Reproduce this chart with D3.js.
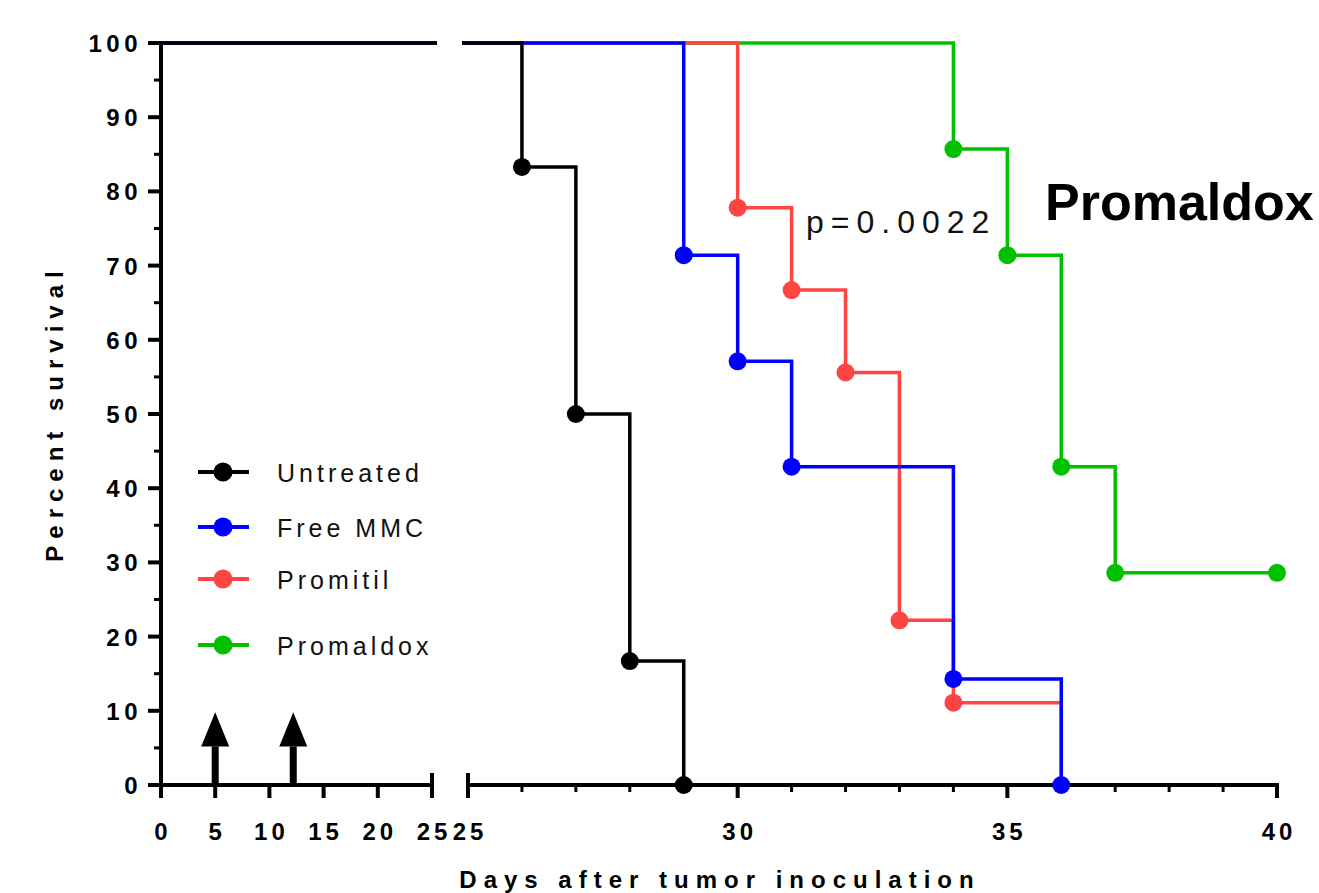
<!DOCTYPE html>
<html><head><meta charset="utf-8">
<script src="https://cdn.jsdelivr.net/npm/d3@7"></script>
<style>body{margin:0;background:#fff}svg{display:block}text{font-family:"Liberation Sans",Arial,sans-serif}</style>
</head><body><svg id="c" width="1319" height="893"></svg>
<script>
// ---- data ----
const seriesNames = ["Untreated", "Free MMC", "Promitil", "Promaldox"];
const seriesColors = ["#000000", "#0000ff", "#ff4444", "#00c000"];
const untreatedDays = [26, 27, 28, 29];
const untreatedSurv = [83.3, 50.0, 16.7, 0];
const freeMMCDays = [29, 30, 31, 34, 36];
const freeMMCSurv = [71.4, 57.1, 42.9, 14.3, 0];
const promitilDays = [30, 31, 32, 33, 34, 36];
const promitilSurv = [77.8, 66.7, 55.6, 22.2, 11.1, 0];
const promitilMarked = [true, true, true, true, true, false];
const promaldoxDays = [34, 35, 36, 37, 40];
const promaldoxSurv = [85.7, 71.4, 42.9, 28.6, 28.6];
const yTicks = [0, 10, 20, 30, 40, 50, 60, 70, 80, 90, 100];
const xTicks1 = [0, 5, 10, 15, 20, 25];
const xTicks2 = [30, 35, 40];
const arrowDays = [5, 12.2];
const pValueText = "p=0.0022";
const titleText = "Promaldox";

const svg = d3.select("#c");
const y = d3.scaleLinear().domain([0, 100]).range([785, 43]);
const x1 = d3.scaleLinear().domain([0, 25]).range([161, 432]);
const x2 = d3.scaleLinear().domain([25, 40]).range([468, 1277]);

const series = [
  {days: untreatedDays, surv: untreatedSurv},
  {days: freeMMCDays, surv: freeMMCSurv},
  {days: promitilDays, surv: promitilSurv, marked: promitilMarked},
  {days: promaldoxDays, surv: promaldoxSurv}
].map((s, i) => ({...s, name: seriesNames[i], color: seriesColors[i]}));

function stepPts(s) {
  const pts = [[0, 100]];
  s.days.forEach((d, i) => pts.push([d, s.surv[i]]));
  return pts;
}

const defs = svg.append("defs");
defs.append("clipPath").attr("id", "cl1").append("rect")
  .attr("x", 150).attr("y", 0).attr("width", 437 - 150).attr("height", 893);
defs.append("clipPath").attr("id", "cl2").append("rect")
  .attr("x", 462).attr("y", 0).attr("width", 1319 - 462).attr("height", 893);

const segs = [{x: x1, clip: "cl1"}, {x: x2, clip: "cl2"}];
const drawOrder = [3, 2, 1, 0];

// axes
const yAxisG = svg.append("g").attr("transform", `translate(${x1(0)},0)`);
yAxisG.append("line").attr("y1", y(100) - 2).attr("y2", y(0) + 2).attr("stroke", "#000").attr("stroke-width", 4);
yAxisG.selectAll(".mj").data(yTicks).join("line")
  .attr("x1", -13).attr("x2", 0).attr("y1", d => y(d)).attr("y2", d => y(d))
  .attr("stroke", "#000").attr("stroke-width", 4);
yAxisG.selectAll(".mn").data(d3.range(5, 100, 10)).join("line")
  .attr("x1", -7).attr("x2", 0).attr("y1", d => y(d)).attr("y2", d => y(d))
  .attr("stroke", "#000").attr("stroke-width", 3);
yAxisG.selectAll(".tl").data(yTicks).join("text")
  .attr("x", -19).attr("y", d => y(d) + 9).attr("text-anchor", "end")
  .attr("font-size", 24).attr("font-weight", "bold").attr("letter-spacing", "4.5px")
  .text(d => d);

// x axis segment 1
const xa1 = svg.append("g");
xa1.append("line").attr("x1", x1(0) - 2).attr("x2", x1(25)).attr("y1", y(0)).attr("y2", y(0)).attr("stroke", "#000").attr("stroke-width", 4);
xa1.selectAll(".t").data(xTicks1).join("line")
  .attr("x1", d => x1(d)).attr("x2", d => x1(d))
  .attr("y1", d => d === 25 ? y(0) - 12 : y(0)).attr("y2", y(0) + 13)
  .attr("stroke", "#000").attr("stroke-width", 4);
xa1.selectAll(".l").data(xTicks1).join("text")
  .attr("x", d => x1(d) + 2).attr("y", 840).attr("text-anchor", "middle")
  .attr("font-size", 24).attr("font-weight", "bold").attr("letter-spacing", "4px")
  .text(d => d);

// x axis segment 2
const xa2 = svg.append("g");
xa2.append("line").attr("x1", x2(25)).attr("x2", x2(40) + 2).attr("y1", y(0)).attr("y2", y(0)).attr("stroke", "#000").attr("stroke-width", 4);
xa2.selectAll(".t").data(d3.range(25, 41)).join("line")
  .attr("x1", d => x2(d)).attr("x2", d => x2(d))
  .attr("y1", d => d === 25 ? y(0) - 12 : y(0))
  .attr("y2", d => (d === 25 ? y(0) + 13 : d % 5 === 0 ? y(0) + 13 : y(0) + 7))
  .attr("stroke", "#000").attr("stroke-width", d => (d % 5 === 0 ? 4 : 3));
xa2.selectAll(".l").data([25].concat(xTicks2)).join("text")
  .attr("x", d => x2(d) + 2).attr("y", 840).attr("text-anchor", "middle")
  .attr("font-size", 24).attr("font-weight", "bold").attr("letter-spacing", "4px")
  .text(d => d);

// arrows
const ag = svg.append("g");
arrowDays.forEach(d => {
  const cx = x1(d);
  ag.append("rect").attr("x", cx - 3.5).attr("width", 7).attr("y", y(5.2)).attr("height", y(0) - y(5.2)).attr("fill", "#000");
  ag.append("path").attr("d", `M${cx - 14},${y(5.2)} L${cx + 14},${y(5.2)} L${cx},${y(9.8)} Z`).attr("fill", "#000");
});

// series
const line = (xs) => d3.line().x(d => xs(d[0])).y(d => y(d[1])).curve(d3.curveStepAfter);
drawOrder.forEach(i => {
  const s = series[i];
  const pts = stepPts(s);
  segs.forEach(sg => {
    const g = svg.append("g").attr("clip-path", `url(#${sg.clip})`);
    g.append("path").attr("d", line(sg.x)(pts)).attr("fill", "none")
      .attr("stroke", s.color).attr("stroke-width", 3.5);
  });
  const dots = s.days.map((d, k) => ({d, v: s.surv[k], m: s.marked ? s.marked[k] : true})).filter(o => o.m);
  svg.append("g").selectAll("circle").data(dots).join("circle")
    .attr("cx", o => x2(o.d)).attr("cy", o => y(o.v)).attr("r", 9).attr("fill", s.color);
});

// legend
const legY = [472, 527, 579, 645];
const lg = svg.append("g");
series.forEach((s, i) => {
  lg.append("line").attr("x1", 198).attr("x2", 249).attr("y1", legY[i]).attr("y2", legY[i])
    .attr("stroke", s.color).attr("stroke-width", 4);
  lg.append("circle").attr("cx", 223).attr("cy", legY[i]).attr("r", 9.5).attr("fill", s.color);
  lg.append("text").attr("x", 277).attr("y", legY[i] + 10).attr("font-size", 25)
    .attr("letter-spacing", "4px").attr("fill", "#111").text(s.name);
});

// annotations
svg.append("text").attr("x", 806).attr("y", 233).attr("font-size", 32).attr("letter-spacing", "7px").attr("fill", "#111").text(pValueText);
svg.append("text").attr("x", 1045).attr("y", 220).attr("font-size", 52).attr("font-weight", "bold").text(titleText);

// axis titles
svg.append("text").attr("transform", "translate(63,413) rotate(-90)").attr("text-anchor", "middle")
  .attr("font-size", 24).attr("font-weight", "bold").attr("letter-spacing", "7px").text("Percent survival");
svg.append("text").attr("x", 720).attr("y", 888).attr("text-anchor", "middle")
  .attr("font-size", 24).attr("font-weight", "bold").attr("letter-spacing", "7px").text("Days after tumor inoculation");
</script></body></html>
